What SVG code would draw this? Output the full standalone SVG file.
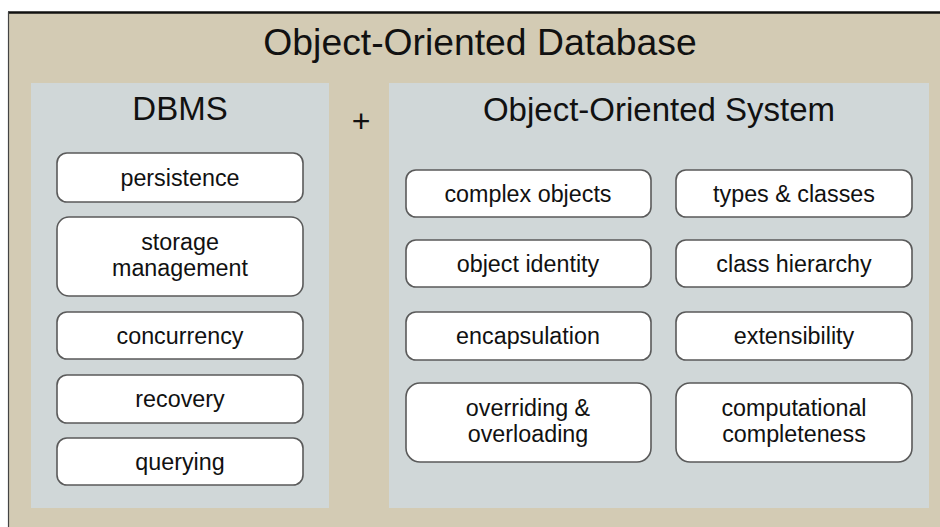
<svg xmlns="http://www.w3.org/2000/svg" width="940" height="527" viewBox="0 0 940 527">
<style>
  text { font-family: "Liberation Sans", Arial, sans-serif; fill: #111; text-anchor: middle; }
  .panel { fill: #D0D7D8; }
  .box { fill: #FFFFFF; stroke: #5A5A5A; stroke-width: 1.6; }
  .lbl { font-size: 23.3px; }
  .head { font-size: 33px; }
</style>
<rect x="0" y="0" width="940" height="527" fill="#FFFFFF"/>
<rect x="8" y="12" width="932" height="515" fill="#D3CBB4"/>
<line x1="8" y1="12.5" x2="940" y2="12.5" stroke="#111" stroke-width="2.5"/>
<line x1="8.5" y1="12" x2="8.5" y2="527" stroke="#444" stroke-width="1.2"/>
<text x="480" y="55" style="font-size:37.3px">Object-Oriented Database</text>

<g id="dbms">
  <rect class="panel" x="31" y="83" width="298" height="425"/>
  <text class="head" x="180" y="120">DBMS</text>
</g>
<g id="plus"><text x="361" y="132" style="font-size:32px">+</text></g>
<g id="oos">
  <rect class="panel" x="389" y="83" width="540" height="425"/>
  <text class="head" x="659" y="121">Object-Oriented System</text>
</g>

<g id="persistence"><rect class="box" x="57" y="153" width="246" height="49" rx="10"/><text class="lbl" x="180" y="185.5">persistence</text></g>
<g id="storage"><rect class="box" x="57" y="217" width="246" height="79" rx="12"/><text class="lbl" x="180" y="250">storage</text><text class="lbl" x="180" y="276">management</text></g>
<g id="concurrency"><rect class="box" x="57" y="312" width="246" height="47" rx="10"/><text class="lbl" x="180" y="343.5">concurrency</text></g>
<g id="recovery"><rect class="box" x="57" y="375" width="246" height="48" rx="10"/><text class="lbl" x="180" y="406.5">recovery</text></g>
<g id="querying"><rect class="box" x="57" y="438" width="246" height="47" rx="10"/><text class="lbl" x="180" y="469.5">querying</text></g>

<g id="complex-objects"><rect class="box" x="406" y="170" width="245" height="47" rx="10"/><text class="lbl" x="528" y="201.5">complex objects</text></g>
<g id="types-classes"><rect class="box" x="676" y="170" width="236" height="47" rx="10"/><text class="lbl" x="794" y="201.5">types &amp; classes</text></g>
<g id="object-identity"><rect class="box" x="406" y="240" width="245" height="47" rx="10"/><text class="lbl" x="528" y="271.5">object identity</text></g>
<g id="class-hierarchy"><rect class="box" x="676" y="240" width="236" height="47" rx="10"/><text class="lbl" x="794" y="271.5">class hierarchy</text></g>
<g id="encapsulation"><rect class="box" x="406" y="312" width="245" height="48" rx="10"/><text class="lbl" x="528" y="343.5">encapsulation</text></g>
<g id="extensibility"><rect class="box" x="676" y="312" width="236" height="48" rx="10"/><text class="lbl" x="794" y="343.5">extensibility</text></g>
<g id="overriding"><rect class="box" x="406" y="383" width="245" height="79" rx="14"/><text class="lbl" x="528" y="416">overriding &amp;</text><text class="lbl" x="528" y="442">overloading</text></g>
<g id="computational"><rect class="box" x="676" y="383" width="236" height="79" rx="14"/><text class="lbl" x="794" y="416">computational</text><text class="lbl" x="794" y="442">completeness</text></g>
<g id="connectors"></g>
</svg>
